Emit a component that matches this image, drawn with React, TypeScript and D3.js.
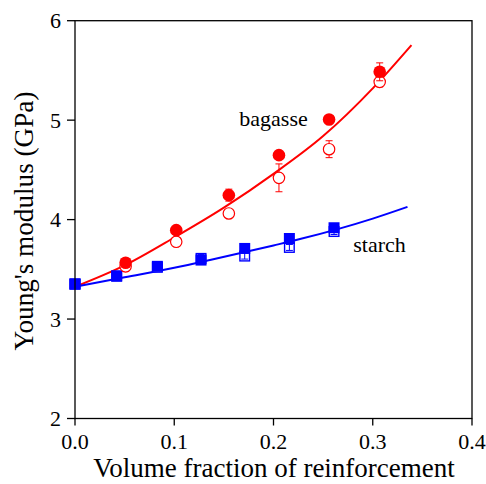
import React from "react";
import * as d3 from "d3";

const xTicks = [0.0, 0.1, 0.2, 0.3, 0.4];
const yTicks = [2, 3, 4, 5, 6];

// Bagasse (red) measured points
const bagasseX = [0.0, 0.051, 0.102, 0.155, 0.2055, 0.256, 0.307];
const bagasseFilled = [3.35, 3.566, 3.894, 4.246, 4.648, 5.007, 5.486];
const bagasseFilledErr = [0, 0.04, 0.03, 0.06, 0.04, 0.03, 0.09];
const bagasseOpen = [3.35, 3.53, 3.777, 4.062, 4.42, 4.708, 5.385];
const bagasseOpenErr = [0, 0.05, 0.03, 0.04, 0.14, 0.085, 0.05];

// Starch (blue) measured points
const starchX = [0.0, 0.042, 0.083, 0.127, 0.171, 0.216, 0.261];
const starchFilled = [3.352, 3.435, 3.53, 3.593, 3.71, 3.81, 3.918];
const starchOpen = [3.352, 3.43, 3.52, 3.61, 3.633, 3.72, 3.88];
const starchOpenErr = [0, 0.02, 0.02, 0.04, 0.03, 0.03, 0.03];

// Fitted curves
const bagasseFitX = [0.0, 0.05, 0.1, 0.15, 0.2, 0.25, 0.3, 0.339];
const bagasseFitY = [3.325, 3.54, 3.82, 4.12, 4.46, 4.84, 5.32, 5.755];
const starchFitX = [0.0, 0.05, 0.1, 0.136, 0.2, 0.2267, 0.3, 0.335];
const starchFitY = [3.325, 3.42, 3.515, 3.593, 3.74, 3.804, 4.01, 4.128];

const RED = "#ff0000";
const BLUE = "#0000ff";
const FONT = "'Liberation Serif', 'Times New Roman', serif";

export default function App() {
  const W = 486, H = 484;
  const left = 75, right = 472, top = 20.7, bottom = 418.5;
  const x = d3.scaleLinear().domain([0, 0.4]).range([left, right]);
  const y = d3.scaleLinear().domain([2, 6]).range([bottom, top]);

  const line = d3
    .line<[number, number]>()
    .x((d) => x(d[0]))
    .y((d) => y(d[1]))
    .curve(d3.curveMonotoneX);

  const bagFit = line(bagasseFitX.map((v, i) => [v, bagasseFitY[i]]) as [number, number][]) || "";
  const stFit = line(starchFitX.map((v, i) => [v, starchFitY[i]]) as [number, number][]) || "";

  const r = 6.3;
  const sq = 11;
  const cap = 3.5;

  const errBar = (cx: number, v: number, e: number, color: string, key: string) => {
    if (!e) return null;
    const y1 = y(v + e), y2 = y(v - e);
    return (
      <g key={key} stroke={color} strokeWidth={1}>
        <line x1={cx} x2={cx} y1={y1} y2={y2} />
        <line x1={cx - cap} x2={cx + cap} y1={y1} y2={y1} />
        <line x1={cx - cap} x2={cx + cap} y1={y2} y2={y2} />
      </g>
    );
  };

  return (
    <svg
      width={W}
      height={H}
      style={{ position: "absolute", left: 0, top: 0, background: "#fff" }}
      fontFamily={FONT}
    >
      <rect x={0} y={0} width={W} height={H} fill="#fff" />
      {/* fitted curves */}
      <path d={bagFit} fill="none" stroke={RED} strokeWidth={2} />
      <path d={stFit} fill="none" stroke={BLUE} strokeWidth={2} />

      {/* open squares */}
      {starchX.map((v, i) => (
        <g key={"os" + i}>
          <rect
            x={x(v) - sq / 2 + 0.7}
            y={y(starchOpen[i]) - sq / 2 + 0.7}
            width={sq - 1.4}
            height={sq - 1.4}
            fill="#fff"
            stroke={BLUE}
            strokeWidth={1.4}
          />
          {errBar(x(v), starchOpen[i], starchOpenErr[i], BLUE, "ose" + i)}
        </g>
      ))}
      {/* filled squares */}
      {starchX.map((v, i) => (
        <rect
          key={"fs" + i}
          x={x(v) - sq / 2}
          y={y(starchFilled[i]) - sq / 2}
          width={sq}
          height={sq}
          fill={BLUE}
        />
      ))}

      {/* open circles */}
      {bagasseX.slice(1).map((v, j) => {
        const i = j + 1;
        return (
          <g key={"oc" + i}>
            {errBar(x(v), bagasseOpen[i], bagasseOpenErr[i], RED, "oce" + i)}
            <circle
              cx={x(v)}
              cy={y(bagasseOpen[i])}
              r={r - 0.6}
              fill="#fff"
              stroke={RED}
              strokeWidth={1.2}
            />
          </g>
        );
      })}
      {/* filled circles */}
      {bagasseX.slice(1).map((v, j) => {
        const i = j + 1;
        return (
          <g key={"fc" + i}>
            {errBar(x(v), bagasseFilled[i], bagasseFilledErr[i], RED, "fce" + i)}
            <circle cx={x(v)} cy={y(bagasseFilled[i])} r={r} fill={RED} />
          </g>
        );
      })}
      {/* starch square at origin on top */}
      <rect
        x={x(starchX[0]) - sq / 2}
        y={y(starchFilled[0]) - sq / 2}
        width={sq}
        height={sq}
        fill={BLUE}
      />

      {/* frame */}
      <rect
        x={left}
        y={top}
        width={right - left}
        height={bottom - top}
        fill="none"
        stroke="#000"
        strokeWidth={1.3}
      />

      {/* x ticks */}
      {xTicks.map((t) => (
        <g key={"xt" + t}>
          <line x1={x(t)} x2={x(t)} y1={bottom} y2={bottom + 7} stroke="#000" strokeWidth={1.3} />
          <text x={x(t)} y={449} textAnchor="middle" fontSize={22} fill="#000">
            {t.toFixed(1)}
          </text>
        </g>
      ))}
      {/* y ticks */}
      {yTicks.map((t) => (
        <g key={"yt" + t}>
          <line x1={left - 8} x2={left} y1={y(t)} y2={y(t)} stroke="#000" strokeWidth={1.3} />
          <text x={61} y={y(t) + 7.5} textAnchor="end" fontSize={22} fill="#000">
            {t}
          </text>
        </g>
      ))}

      {/* labels */}
      <text x={239.3} y={126} fontSize={22} fill="#000">bagasse</text>
      <text x={353.3} y={251.7} fontSize={22} fill="#000">starch</text>

      <text x={(left + right) / 2 + 0.5} y={477} textAnchor="middle" fontSize={27} fill="#000">
        Volume fraction of reinforcement
      </text>
      <text
        transform={`translate(33, 221) rotate(-90)`}
        textAnchor="middle"
        fontSize={27.2}
        fill="#000"
      >
        Young's modulus (GPa)
      </text>
    </svg>
  );
}
